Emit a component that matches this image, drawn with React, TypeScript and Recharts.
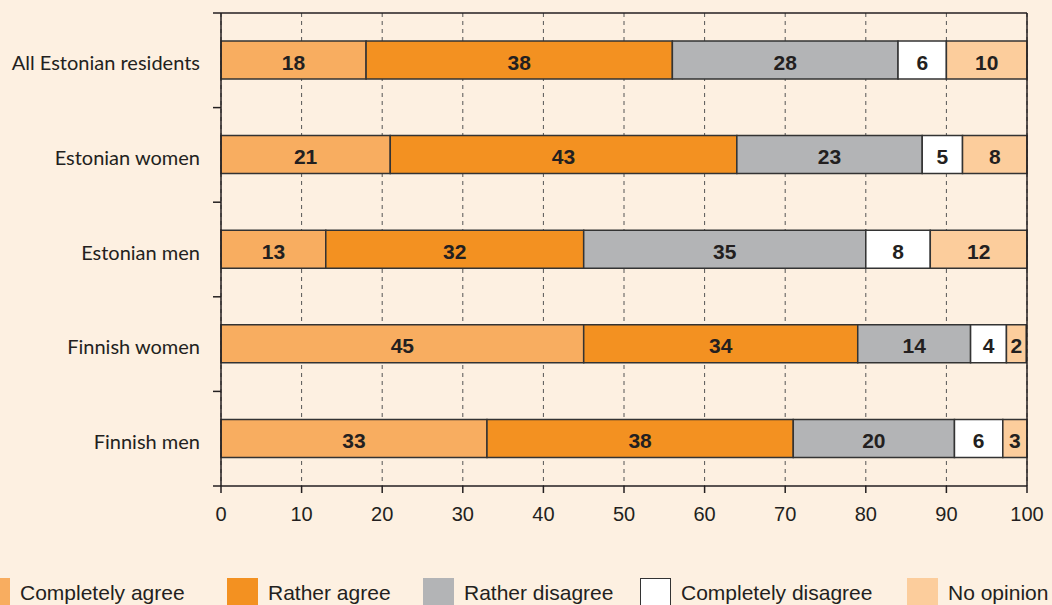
import React from "react";
import {
  BarChart,
  Bar,
  XAxis,
  YAxis,
  CartesianGrid,
  ReferenceLine,
  LabelList,
} from "recharts";

const categories = [
  "All Estonian residents",
  "Estonian women",
  "Estonian men",
  "Finnish women",
  "Finnish men",
];
const completelyAgree = [18, 21, 13, 45, 33];
const ratherAgree = [38, 43, 32, 34, 38];
const ratherDisagree = [28, 23, 35, 14, 20];
const completelyDisagree = [6, 5, 8, 4.45, 6];
const noOpinion = [10, 8, 12, 2.45, 3];
const xTicks = [0, 10, 20, 30, 40, 50, 60, 70, 80, 90, 100];

const seriesNames = [
  "Completely agree",
  "Rather agree",
  "Rather disagree",
  "Completely disagree",
  "No opinion",
];
const seriesKeys = ["ca", "ra", "rd", "cd", "no"];
const seriesColors = ["#f8ad60", "#f39121", "#b3b4b6", "#ffffff", "#fccd9c"];

const data = categories.map((name, i) => ({
  name,
  ca: completelyAgree[i],
  ra: ratherAgree[i],
  rd: ratherDisagree[i],
  cd: completelyDisagree[i],
  no: noOpinion[i],
}));

const DARK = "#231f20";
const BG = "#fdf0e1";
const legendLeft = [-21, 227, 423, 640, 907];
const Y_MARGIN = 21;
const Y_TICK_LEN = 8;

const renderLabel = (props: any) => {
  const { x, y, width, height, value } = props;
  return (
    <text
      x={x + width / 2}
      y={y + height / 2}
      dy={9.5}
      textAnchor="middle"
      fontFamily="'Liberation Sans', Arial, sans-serif"
      fontWeight="bold"
      fontSize={21}
      fill={DARK}
    >
      {Math.round(value)}
    </text>
  );
};

const YTick = (props: any) => {
  const { x, y, payload, index, visibleTicksCount } = props;
  const half = payload && payload.offset ? payload.offset : 0;
  const axisX = x + Y_MARGIN;
  const isLast = index === visibleTicksCount - 1;
  return (
    <g>
      <line
        x1={axisX - Y_TICK_LEN}
        x2={axisX}
        y1={y - half}
        y2={y - half}
        stroke={DARK}
        strokeWidth={1.5}
      />
      {isLast && (
        <line
          x1={axisX - Y_TICK_LEN}
          x2={axisX}
          y1={y + half}
          y2={y + half}
          stroke={DARK}
          strokeWidth={1.5}
        />
      )}
      <text
        x={x}
        y={y}
        dy={10}
        textAnchor="end"
        fontFamily="Lato, 'Open Sans', sans-serif"
        fontSize={20}
        fill={DARK}
      >
        {payload.value}
      </text>
    </g>
  );
};

const EmptyTick = () => <g />;

export default function App() {
  return (
    <div
      style={{
        position: "fixed",
        left: 0,
        top: 0,
        width: 1052,
        height: 605,
        background: BG,
        overflow: "hidden",
      }}
    >
      <BarChart
        width={1052}
        height={605}
        data={data}
        layout="vertical"
        margin={{ top: 12, right: 25, left: 0, bottom: 89 }}
      >
        <CartesianGrid
          horizontal={false}
          vertical={true}
          strokeDasharray="4 4"
          stroke="#555"
        />
        <XAxis
          type="number"
          domain={[0, 100]}
          ticks={xTicks}
          interval={0}
          height={30}
          tickSize={7}
          tickMargin={14}
          axisLine={{ stroke: DARK, strokeWidth: 1.5 }}
          tickLine={{ stroke: DARK, strokeWidth: 1.5 }}
          tick={{
            fontFamily: "'Liberation Sans', Arial, sans-serif",
            fontSize: 20,
            fill: DARK,
          }}
        />
        <XAxis
          xAxisId="top"
          orientation="top"
          type="number"
          domain={[0, 100]}
          height={1}
          tick={<EmptyTick />}
          tickLine={false}
          axisLine={{ stroke: DARK, strokeWidth: 1.5 }}
          allowDataOverflow
        />
        <YAxis
          type="category"
          dataKey="name"
          width={221}
          axisLine={{ stroke: DARK, strokeWidth: 1.5 }}
          tickLine={false}
          tickSize={0}
          tickMargin={Y_MARGIN}
          interval={0}
          tick={<YTick />}
        />
        <ReferenceLine x={100} stroke={DARK} strokeWidth={1.5} />
        {seriesKeys.map((k, i) => (
          <Bar
            key={k}
            dataKey={k}
            name={seriesNames[i]}
            stackId="a"
            fill={seriesColors[i]}
            stroke="#333"
            strokeWidth={1.5}
            barSize={38}
            isAnimationActive={false}
          >
            <LabelList dataKey={k} content={renderLabel} />
          </Bar>
        ))}
      </BarChart>
      {seriesNames.map((n, i) => (
        <div
          key={n}
          style={{
            position: "absolute",
            left: legendLeft[i],
            top: 578,
            display: "flex",
            alignItems: "flex-start",
          }}
        >
          <div
            style={{
              width: 31,
              height: 30,
              background: seriesColors[i],
              boxSizing: "border-box",
              border: i === 3 ? "1.5px solid #333" : "none",
            }}
          />
          <span
            style={{
              marginLeft: 10,
              marginTop: 3,
              fontFamily: "'Liberation Sans', Arial, sans-serif",
              fontSize: 21,
              color: DARK,
              whiteSpace: "nowrap",
              lineHeight: "24px",
            }}
          >
            {n}
          </span>
        </div>
      ))}
    </div>
  );
}
